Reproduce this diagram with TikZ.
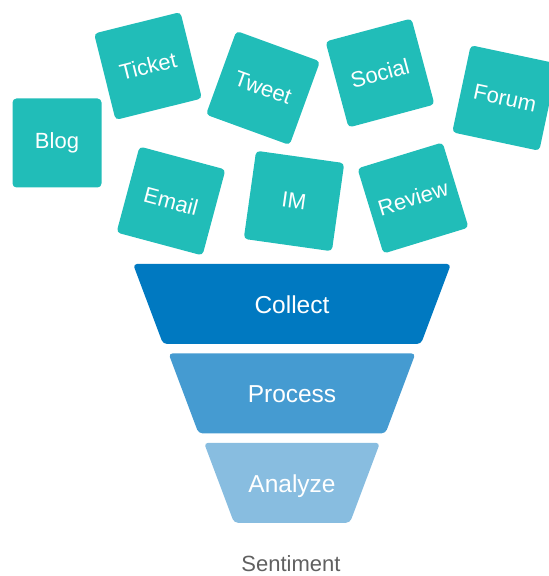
\documentclass[tikz,border=0pt]{standalone}
\usepackage{fontspec}
\setmainfont{Liberation Sans}
\usetikzlibrary{shapes.geometric, positioning}

\definecolor{cardteal}{RGB}{33,189,184}
\definecolor{stageone}{RGB}{0,121,193}
\definecolor{stagetwo}{RGB}{69,155,209}
\definecolor{stagethree}{RGB}{136,189,224}
\definecolor{captiongray}{RGB}{96,96,96}

\begin{document}
\begin{tikzpicture}[x=1pt, y=1pt,
      % Define compact styles
      card/.style={rectangle, fill=cardteal, rounded corners=4pt, minimum size=89pt, inner sep=0pt, text=white, font=\fontsize{22}{26}\selectfont},
      stage/.style={trapezium, trapezium angle=69.4, shape border rotate=180, trapezium stretches body=true, rounded corners=4pt, text height=21pt, text depth=2pt, inner xsep=0pt, inner ysep=28.5pt, text=white, font=\fontsize{24.5}{28}\selectfont},
      caption/.style={text=captiongray, font=\fontsize{22}{26}\selectfont}
    ]
    \useasboundingbox (0,0) rectangle (549,576);

    % Sources - top row
    \node[card] (blog) at (57,433) {Blog};
    \node[card, rotate=14] (ticket) at (148,510) {Ticket};
    \node[card, rotate=-20] (tweet) at (263,488) {Tweet};
    \node[card, rotate=15] (social) at (380,503) {Social};
    \node[card, rotate=-12] (forum) at (505,478) {Forum};

    % Sources - bottom row
    \node[card, rotate=-15] (email) at (171,375) {Email};
    \node[card, rotate=-8] (im) at (294,375) {IM};
    \node[card, rotate=17] (review) at (413,378) {Review};

    % Funnel
    \node[stage, fill=stageone, minimum width=318pt] (collect) at (292,272) {Collect};
    \node[stage, fill=stagetwo, minimum width=247pt, below=9pt of collect] (process) {Process};
    \node[stage, fill=stagethree, minimum width=176pt, below=9pt of process] (analyze) {Analyze};

    \node[caption] (sentiment) at (291,12) {Sentiment};

  \end{tikzpicture}
\end{document}
